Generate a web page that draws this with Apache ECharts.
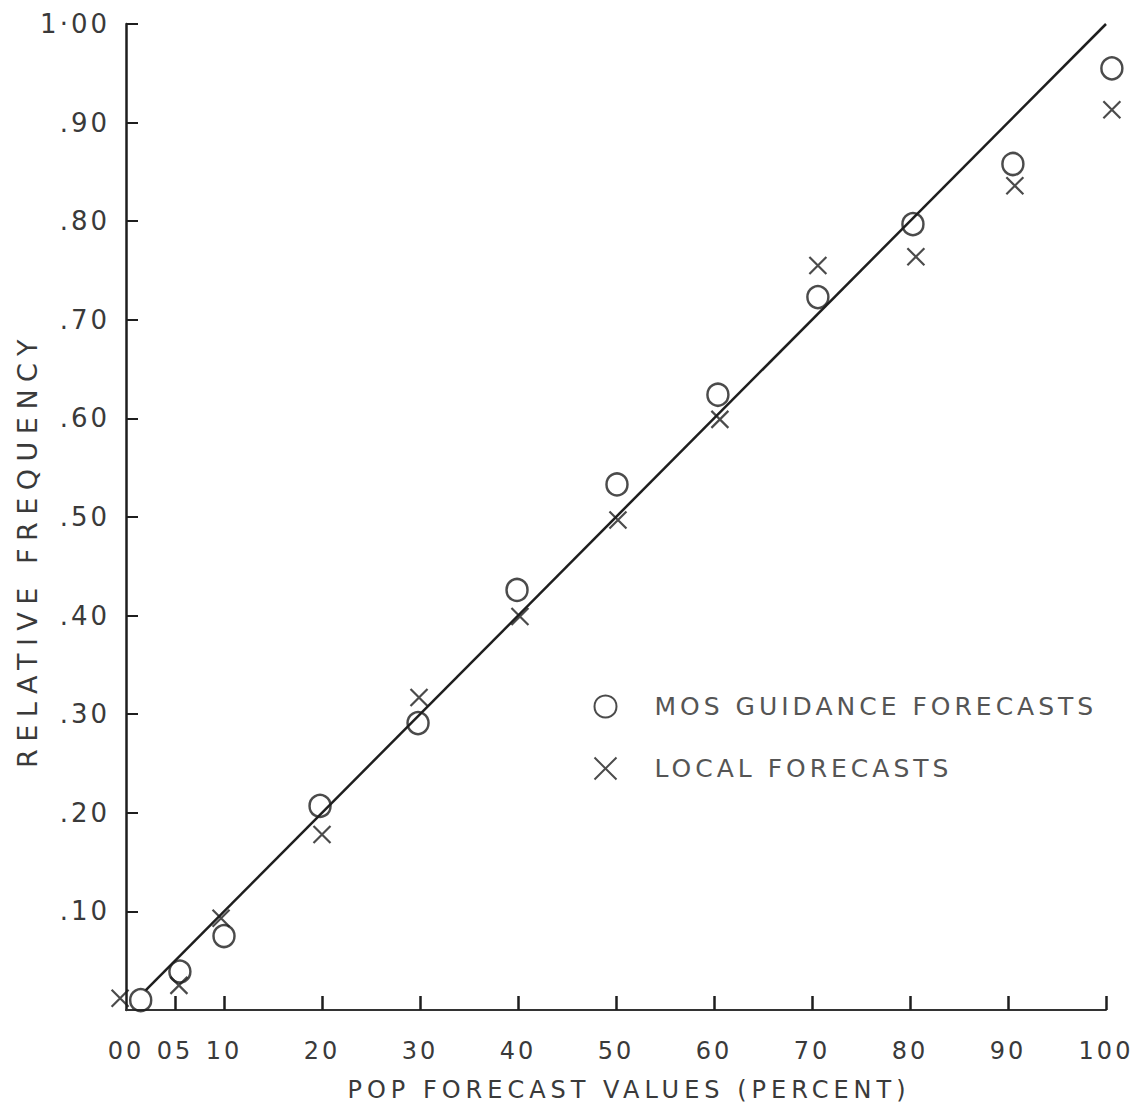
<!DOCTYPE html>
<html>
<head>
<meta charset="utf-8">
<script src="https://cdn.jsdelivr.net/npm/echarts@6/dist/echarts.min.js"></script>
<style>
html,body{margin:0;padding:0;background:#fff;}
#chart{width:1143px;height:1111px;}
#chart text{letter-spacing:3px;}
</style>
</head>
<body>
<div id="chart"></div>
<script>
// ---- data ----
var mosX   = [1.5, 5.5, 10, 19.8, 29.8, 39.9, 50.1, 60.4, 70.6, 80.3, 90.5, 100.6];
var mosY   = [0.010, 0.039, 0.075, 0.207, 0.291, 0.426, 0.533, 0.624, 0.723, 0.797, 0.858, 0.955];
var localX = [-0.6, 5.4, 9.7, 20, 29.9, 40.2, 50.2, 60.6, 70.6, 80.6, 90.7, 100.6];
var localY = [0.012, 0.025, 0.093, 0.178, 0.317, 0.399, 0.497, 0.599, 0.755, 0.764, 0.836, 0.913];
var perfectX = [2, 100];
var perfectY = [0.02, 1.00];
var xTickValues  = [5, 10, 20, 30, 40, 50, 60, 70, 80, 90, 100];
var xLabelValues = [0, 5, 10, 20, 30, 40, 50, 60, 70, 80, 90, 100];
var yTickValues  = [0.1, 0.2, 0.3, 0.4, 0.5, 0.6, 0.7, 0.8, 0.9, 1.0];
var seriesNames = ['MOS GUIDANCE FORECASTS', 'LOCAL FORECASTS'];
var xTitle = 'POP FORECAST VALUES (PERCENT)';
var yTitle = 'RELATIVE FREQUENCY';

function pairs(xs, ys){ return xs.map(function(x,i){ return [x, ys[i]]; }); }

var ink = '#1e1e1e';
var textInk = '#3a3a3a';
var font = 'DejaVu Sans';

var chart = echarts.init(document.getElementById('chart'), null, {renderer:'svg'});
chart.setOption({
  animation:false,
  backgroundColor:'#ffffff',
  grid:{left:126, right:37, top:24, bottom:101, containLabel:false},
  legend:{
    orient:'vertical', left:587, top:689, itemGap:36,
    itemWidth:22, itemHeight:22,
    data:seriesNames,
    textStyle:{fontFamily:font, fontSize:25, color:'#555', padding:[0,0,0,33]}
  },
  xAxis:{
    type:'value', min:0, max:100,
    name:xTitle,
    nameLocation:'middle', nameGap:68,
    nameTextStyle:{fontFamily:font, fontSize:24, color:textInk, padding:[0,0,0,26]},
    splitLine:{show:false},
    axisLine:{show:true, onZero:false, lineStyle:{color:'#333', width:2}},
    axisTick:{show:true, inside:true, length:14, customValues:xTickValues, lineStyle:{color:ink, width:2.5}},
    axisLabel:{
      customValues:xLabelValues, margin:29,
      fontFamily:font, fontSize:24, color:textInk,
      formatter:function(v){ return v < 10 ? '0' + v : String(v); }
    }
  },
  yAxis:{
    type:'value', min:0, max:1, interval:0.1,
    name:yTitle,
    nameLocation:'middle', nameGap:84,
    nameTextStyle:{fontFamily:font, fontSize:27, color:textInk, padding:[0,66,0,0]},
    splitLine:{show:false},
    axisLine:{show:true, onZero:false, lineStyle:{color:ink, width:2.5}},
    axisTick:{show:true, inside:true, length:12, customValues:yTickValues, lineStyle:{color:ink, width:2}},
    axisLabel:{
      customValues:yTickValues, margin:16,
      fontFamily:font, fontSize:26, color:textInk,
      formatter:function(v){
        var n = Math.round(v*100);
        if (n === 100) return '1·00';
        if (n === 0) return '';
        return '.' + (n < 10 ? '0' + n : n);
      }
    }
  },
  series:[
    {
      name:'perfect', type:'line', data:pairs(perfectX, perfectY),
      symbol:'none', silent:true,
      lineStyle:{color:ink, width:2.5}
    },
    {
      name:seriesNames[0], type:'scatter', data:pairs(mosX, mosY),
      symbol:'circle', symbolSize:[21,22], clip:false,
      itemStyle:{color:'rgba(0,0,0,0)', borderColor:ink, borderWidth:2.5},
      emphasis:{disabled:true}
    },
    {
      name:seriesNames[1], type:'scatter', data:pairs(localX, localY),
      symbol:'path://M0,0L10,10M10,0L0,10', symbolSize:17, clip:false,
      itemStyle:{color:'none', borderColor:ink, borderWidth:2.2},
      emphasis:{disabled:true}
    }
  ]
});

// widen the lettering like the original lettering
var spacing = {};
spacing[xTitle] = '5px';
spacing[yTitle] = '7.5px';
spacing[seriesNames[0]] = '4px';
spacing[seriesNames[1]] = '4px';
function applySpacing(){
  var texts = document.querySelectorAll('#chart text');
  texts.forEach(function(t){
    var s = spacing[t.textContent];
    if (s) t.style.letterSpacing = s;
  });
}
chart.on('finished', applySpacing);
setTimeout(applySpacing, 0);
setTimeout(applySpacing, 100);
</script>
</body>
</html>
